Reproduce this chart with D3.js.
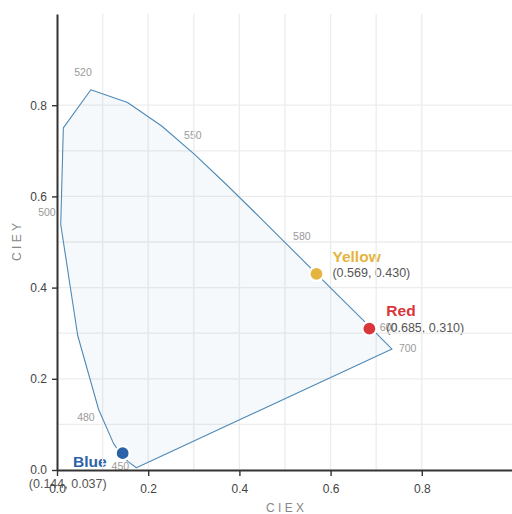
<!DOCTYPE html>
<html>
<head>
<meta charset="utf-8">
<script src="https://cdn.jsdelivr.net/npm/d3@7/dist/d3.min.js"></script>
<style>
  html, body { margin: 0; padding: 0; background: #fff; }
  svg { display: block; font-family: "Liberation Sans", Arial, sans-serif; }
</style>
</head>
<body>
<svg id="chart" width="512" height="514"></svg>
<script>
// ---- data ----
// spectral locus (CIE 1931 chromaticity), wavelengths in nm
const locusWavelengths = [380, 450, 460, 470, 480, 490, 500, 510, 520, 530, 540, 550, 560, 570, 580, 590, 600, 610, 620, 700];
const locusX = [0.1741, 0.1566, 0.1440, 0.1241, 0.0913, 0.0454, 0.0082, 0.0139, 0.0743, 0.1547, 0.2296, 0.3016, 0.3731, 0.4441, 0.5125, 0.5752, 0.6270, 0.6658, 0.6915, 0.7347];
const locusY = [0.0050, 0.0177, 0.0297, 0.0578, 0.1327, 0.2950, 0.5384, 0.7502, 0.8338, 0.8059, 0.7543, 0.6923, 0.6245, 0.5547, 0.4866, 0.4242, 0.3725, 0.3340, 0.3083, 0.2653];

// wavelength annotations (text, anchor in CIE units)
const wlLabels = ["450", "480", "500", "520", "550", "580", "600", "700"];
const wlLabelX = [0.139, 0.0635, -0.022, 0.057, 0.298, 0.537, 0.727, 0.769];
const wlLabelY = [0.009, 0.116, 0.565, 0.872, 0.734, 0.513, 0.313, 0.267];

// named colour points
const pointNames = ["Blue", "Yellow", "Red"];
const pointX = [0.144, 0.569, 0.685];
const pointY = [0.037, 0.430, 0.310];
const pointColors = ["#2c62a7", "#e4b440", "#d9363b"];

// axis ticks
const tickValues = [0.0, 0.2, 0.4, 0.6, 0.8];
const gridValues = [0.1, 0.2, 0.3, 0.4, 0.5, 0.6, 0.7, 0.8];

// ---- chart ----
const svg = d3.select("#chart");
const x = d3.scaleLinear().domain([0, 1]).range([57, 513]);
const y = d3.scaleLinear().domain([0, 1]).range([470, 14]);
const fmt = d3.format(".3f");

// label placement per point (left/below for Blue)
const placement = {
  Blue:   { anchor: "end",   dx: -16, nameDy: 14,  coordDy: 35 },
  Yellow: { anchor: "start", dx: 16,  nameDy: -12, coordDy: 3.5 },
  Red:    { anchor: "start", dx: 17,  nameDy: -12.5, coordDy: 3.2 }
};

// wavelength labels
const wlData = wlLabels.map((t, i) => ({ t, x: wlLabelX[i], y: wlLabelY[i] }));
svg.append("g").selectAll("text").data(wlData).join("text")
  .attr("x", d => x(d.x)).attr("y", d => y(d.y))
  .attr("text-anchor", "middle").attr("dominant-baseline", "central")
  .attr("font-size", 10.5).attr("fill", "#9a9a9a")
  .text(d => d.t);

const pts = pointNames.map((n, i) => ({ n, x: pointX[i], y: pointY[i], c: pointColors[i] }));

// point labels
const lab = svg.append("g");
lab.selectAll("text.name").data(pts).join("text").attr("class", "name")
  .attr("x", d => x(d.x) + placement[d.n].dx)
  .attr("y", d => y(d.y) + placement[d.n].nameDy)
  .attr("text-anchor", d => placement[d.n].anchor)
  .attr("font-size", 15.5).attr("font-weight", "bold")
  .attr("fill", d => d.c).text(d => d.n);
lab.selectAll("text.coord").data(pts).join("text").attr("class", "coord")
  .attr("x", d => x(d.x) + placement[d.n].dx)
  .attr("y", d => y(d.y) + placement[d.n].coordDy)
  .attr("text-anchor", d => placement[d.n].anchor)
  .attr("font-size", 12.5).attr("fill", "#555")
  .text(d => `(${fmt(d.x)}, ${fmt(d.y)})`);

// grid
const grid = svg.append("g").attr("stroke", "#ececec").attr("stroke-width", 1.3);
grid.selectAll("line.v").data(gridValues).join("line").attr("class", "v")
  .attr("x1", d => x(d)).attr("x2", d => x(d))
  .attr("y1", y(1)).attr("y2", y(0));
grid.selectAll("line.h").data(gridValues).join("line").attr("class", "h")
  .attr("y1", d => y(d)).attr("y2", d => y(d))
  .attr("x1", x(0)).attr("x2", x(1));

// spectral locus polygon
const locus = locusX.map((v, i) => [x(v), y(locusY[i])]);
svg.append("path")
  .attr("d", d3.line()(locus) + "Z")
  .attr("fill", "#4682b4").attr("fill-opacity", 0.05)
  .attr("stroke", "#4f8ab8").attr("stroke-width", 1.1)
  .attr("stroke-linejoin", "round");

// points
svg.append("g").selectAll("circle").data(pts).join("circle")
  .attr("cx", d => x(d.x)).attr("cy", d => y(d.y)).attr("r", 7)
  .attr("fill", d => d.c).attr("stroke", "#fff").attr("stroke-width", 2.2);

// axes
const xAxis = svg.append("g").attr("transform", `translate(0,${y(0)})`)
  .call(d3.axisBottom(x).tickValues(tickValues).tickFormat(d3.format(".1f")).tickSize(6).tickSizeOuter(0));
const yAxis = svg.append("g").attr("transform", `translate(${x(0)},0)`)
  .call(d3.axisLeft(y).tickValues(tickValues).tickFormat(d3.format(".1f")).tickSize(5).tickSizeOuter(0));
[xAxis, yAxis].forEach(a => {
  a.select(".domain").attr("stroke", "#333").attr("stroke-width", 2);
  a.selectAll(".tick line").attr("stroke", "#333").attr("stroke-width", 1.4);
  a.selectAll(".tick text").attr("fill", "#444").attr("font-size", 12)
    .attr("font-family", "Liberation Sans, Arial, sans-serif");
});
xAxis.selectAll(".tick text").attr("dy", "1.15em");
yAxis.selectAll(".tick text").attr("x", -10);

// axis titles
svg.append("text").attr("x", (x(0) + x(1)) / 2).attr("y", 511.5)
  .attr("text-anchor", "middle").attr("font-size", 12).attr("fill", "#888")
  .text("C I E X");
svg.append("text").attr("transform", `translate(21,${(y(0) + y(1)) / 2}) rotate(-90)`)
  .attr("text-anchor", "middle").attr("font-size", 12).attr("fill", "#888")
  .text("C I E Y");
</script>
</body>
</html>
